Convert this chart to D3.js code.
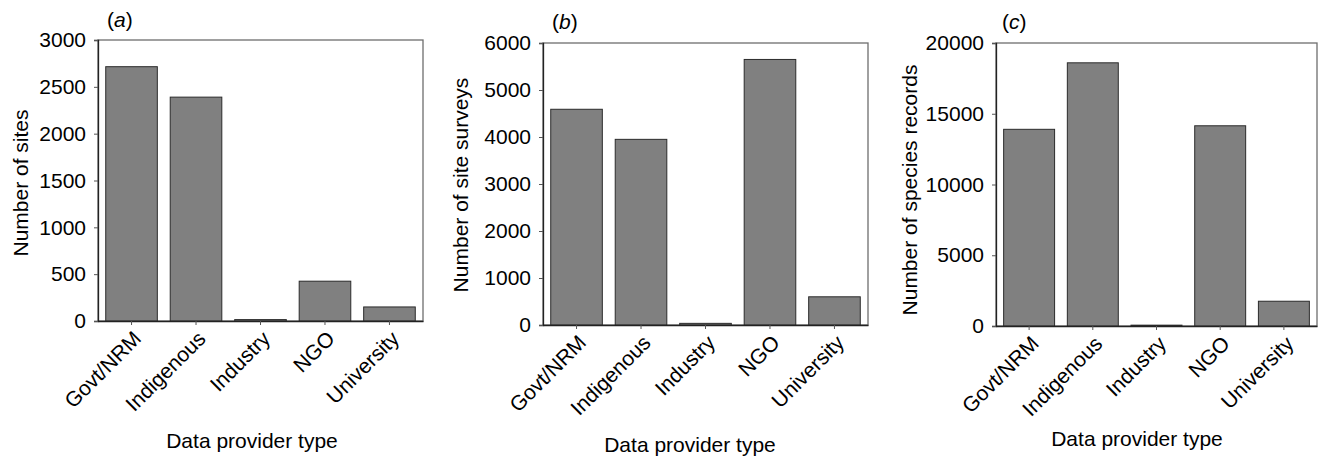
<!DOCTYPE html>
<html>
<head>
<meta charset="utf-8">
<script src="https://cdnjs.cloudflare.com/ajax/libs/d3/7.8.5/d3.min.js"></script>
<style>
    body { margin: 0; background: #fff; }
    svg { display: block; font-family: Arial, "Liberation Sans", sans-serif; }
</style>
</head>
<body>
<div id="elements"></div>
<script>
// data
var categories = ["Govt/NRM", "Indigenous", "Industry", "NGO", "University"];
var sites = [2715, 2390, 15, 425, 150];
var siteSurveys = [4590, 3950, 35, 5650, 600];
var speciesRecords = [13900, 18600, 60, 14150, 1750];

var panelLabels = ["a", "b", "c"];
var yTitles = ["Number of sites", "Number of site surveys", "Number of species records"];
var yMax = [3000, 6000, 20000];
var yTicks = [
    [0, 500, 1000, 1500, 2000, 2500, 3000],
    [0, 1000, 2000, 3000, 4000, 5000, 6000],
    [0, 5000, 10000, 15000, 20000]
];
var xTitle = "Data provider type";

// panel frames (left, top, right, bottom) and text placement
var layout = [
    {l: 98, t: 40, r: 423, b: 321, yt: 28, ytY: 183, xtX: 252, xtY: 448, lab: 9, labY: 27},
    {l: 543, t: 43, r: 868, b: 325, yt: 468, ytY: 185, xtX: 690, xtY: 452, lab: 9, labY: 29},
    {l: 996, t: 43, r: 1317, b: 326, yt: 917, ytY: 190, xtX: 1137, xtY: 446, lab: 6, labY: 29}
];

var series = [sites, siteSurveys, speciesRecords];

var svg = d3.select("#elements").append("svg")
    .attr("width", 1319)
    .attr("height", 456);

series.forEach(function(values, i) {
    var p = layout[i];

    var x = d3.scaleBand()
        .domain(categories)
        .range([p.l, p.r])
        .paddingInner(0.2)
        .paddingOuter(0.12);

    var y = d3.scaleLinear()
        .domain([0, yMax[i]])
        .range([p.b, p.t]);

    var g = svg.append("g").attr("class", "panel");

    // frame
    g.append("rect")
        .attr("x", p.l)
        .attr("y", p.t)
        .attr("width", p.r - p.l)
        .attr("height", p.b - p.t)
        .attr("fill", "none")
        .attr("stroke", "#6e6e6e")
        .attr("stroke-width", 1.3);

    // bars
    g.selectAll("rect.bar")
        .data(values)
        .enter()
        .append("rect")
        .attr("class", "bar")
        .attr("x", function(d, j) { return x(categories[j]); })
        .attr("y", function(d) { return y(d); })
        .attr("width", x.bandwidth())
        .attr("height", function(d) { return p.b - y(d); })
        .attr("fill", "#808080")
        .attr("stroke", "#2b2b2b")
        .attr("stroke-width", 1);

    // y axis
    var yAxis = g.append("g")
        .attr("transform", "translate(" + p.l + ",0)")
        .call(d3.axisLeft(y).tickValues(yTicks[i]).tickSize(4).tickPadding(8).tickFormat(d3.format("d")));
    yAxis.select(".domain").attr("stroke", "#222").attr("stroke-width", 1.3);
    yAxis.selectAll(".tick line").attr("stroke", "#555");
    yAxis.selectAll(".tick text")
        .attr("font-size", 21)
        .attr("fill", "#000");

    // x axis
    var xAxis = g.append("g")
        .attr("transform", "translate(0," + p.b + ")")
        .call(d3.axisBottom(x).tickSize(4).tickSizeOuter(0));
    xAxis.select(".domain").attr("stroke", "#222").attr("stroke-width", 1.6);
    xAxis.selectAll(".tick line").attr("stroke", "#555");
    xAxis.selectAll(".tick text")
        .attr("font-size", 21)
        .attr("fill", "#000")
        .attr("text-anchor", "end")
        .attr("dy", 0)
        .attr("transform", "translate(6,14) rotate(-45)");

    // axis titles
    g.append("text")
        .attr("transform", "translate(" + p.yt + "," + p.ytY + ") rotate(-90)")
        .attr("text-anchor", "middle")
        .attr("font-size", 21)
        .attr("fill", "#000")
        .text(yTitles[i]);

    g.append("text")
        .attr("x", p.xtX)
        .attr("y", p.xtY)
        .attr("text-anchor", "middle")
        .attr("font-size", 21)
        .attr("fill", "#000")
        .text(xTitle);

    // panel letter
    var lab = g.append("text")
        .attr("x", p.l + p.lab)
        .attr("y", p.labY)
        .attr("font-size", 21)
        .attr("fill", "#000");
    lab.append("tspan").text("(");
    lab.append("tspan").attr("font-style", "italic").text(panelLabels[i]);
    lab.append("tspan").text(")");
});
</script>
</body>
</html>
